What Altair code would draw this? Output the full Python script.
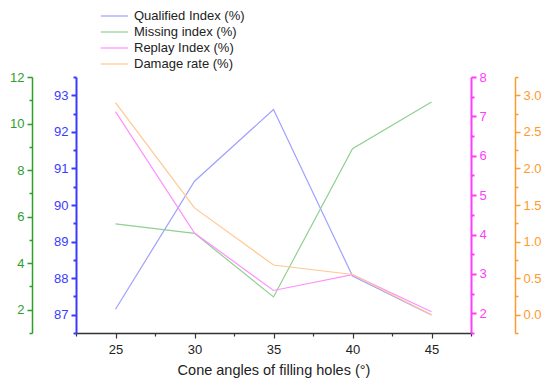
import altair as alt
import pandas as pd

angles = [25, 30, 35, 40, 45]
qualified = [87.15, 90.65, 92.61, 88.06, 86.99]
missing = [5.69, 5.28, 2.55, 8.92, 10.93]
replay = [7.12, 4.04, 2.58, 2.98, 2.04]
damage = [2.90, 1.46, 0.68, 0.55, 0.00]

names = ["Qualified Index (%)", "Missing index (%)", "Replay Index (%)", "Damage rate (%)"]
line_colors = ["#a0a0ff", "#90d090", "#ff90ff", "#ffc890"]
axis_colors = ["#3b3bff", "#2e9e2e", "#ff3dff", "#ff9a2e"]

rows = []
for name, vals in zip(names, [qualified, missing, replay, damage]):
    for a, v in zip(angles, vals):
        rows.append({"angle": a, "value": v, "series": name})
df = pd.DataFrame(rows)

FONT = "Liberation Sans"

x_enc = alt.X(
    "angle:Q",
    scale=alt.Scale(domain=[22.5, 47.5], nice=False, zero=False),
    axis=alt.Axis(
        title="Cone angles of filling holes (°)",
        values=[22.5, 25, 27.5, 30, 32.5, 35, 37.5, 40, 42.5, 45, 47.5],
        labelExpr="round(datum.value*2) % 10 == 0 ? format(datum.value, 'd') : ''",
        tickSize={"condition": {"test": "round(datum.value*2) % 10 == 0", "value": 5}, "value": 3},
        domainColor="#333333", tickColor="#333333", domainWidth=1.5, tickWidth=1.2,
        labelColor="#222222", labelFontSize=13, labelFont=FONT, labelPadding=5,
        titleFont=FONT, titleFontSize=14.5, titleFontWeight="normal", titleColor="#222222",
        titlePadding=7, grid=False, labelOverlap=False,
    ),
)

color_enc = alt.Color(
    "series:N",
    scale=alt.Scale(domain=names, range=line_colors),
    legend=alt.Legend(
        title=None, orient="none", legendX=35, legendY=-70,
        symbolType="M-2.4,0H1", symbolStrokeWidth=1.2, symbolSize=256,
        labelFont=FONT, labelFontSize=13, labelColor="#222222",
        rowPadding=0, symbolOffset=0, labelOffset=5, padding=0,
    ),
)


def yaxis(orient, offset, color, values, test, fmt, width):
    return alt.Axis(
        orient=orient, offset=offset, title=None, values=values,
        labelExpr=f"({test}) ? format(datum.value, '{fmt}') : ''",
        tickSize={"condition": {"test": test, "value": 5}, "value": 3},
        domainColor=color, tickColor=color, labelColor=color,
        domainWidth=width, tickWidth=width,
        labelFont=FONT, labelFontSize=13, labelPadding=3,
        grid=False, labelOverlap=False,
    )


specs = [
    (names[0], [86.5, 93.5], yaxis("left", 0, axis_colors[0],
        [86.5 + 0.5 * i for i in range(15)], "abs(datum.value - round(datum.value)) < 0.01", "d", 2)),
    (names[1], [1, 12], yaxis("left", 44, axis_colors[1],
        list(range(1, 13)), "round(datum.value) % 2 == 0", "d", 1.5)),
    (names[2], [1.5, 8], yaxis("right", 0, axis_colors[2],
        [1.5 + 0.5 * i for i in range(14)], "abs(datum.value - round(datum.value)) < 0.01", "d", 2)),
    (names[3], [-0.25, 3.25], yaxis("right", 44, axis_colors[3],
        [-0.25 + 0.25 * i for i in range(15)], "round(datum.value*4) % 2 == 0", ".1f", 1.5)),
]

layers = []
for name, dom, ax in specs:
    layers.append(
        alt.Chart(df)
        .transform_filter(alt.datum.series == name)
        .mark_line(strokeWidth=1.2)
        .encode(
            x=x_enc,
            y=alt.Y("value:Q", scale=alt.Scale(domain=dom, nice=False, zero=False), axis=ax),
            color=color_enc,
        )
    )

chart = (
    alt.layer(*layers)
    .resolve_scale(y="independent")
    .properties(
        width=395, height=256,
        autosize=alt.AutoSizeParams(type="none"),
        padding={"left": 68, "top": 69, "right": 71, "bottom": 46},
    )
    .configure_view(stroke=None)
)

chart.save("out.html", embed_options={"renderer": "svg", "actions": False})
